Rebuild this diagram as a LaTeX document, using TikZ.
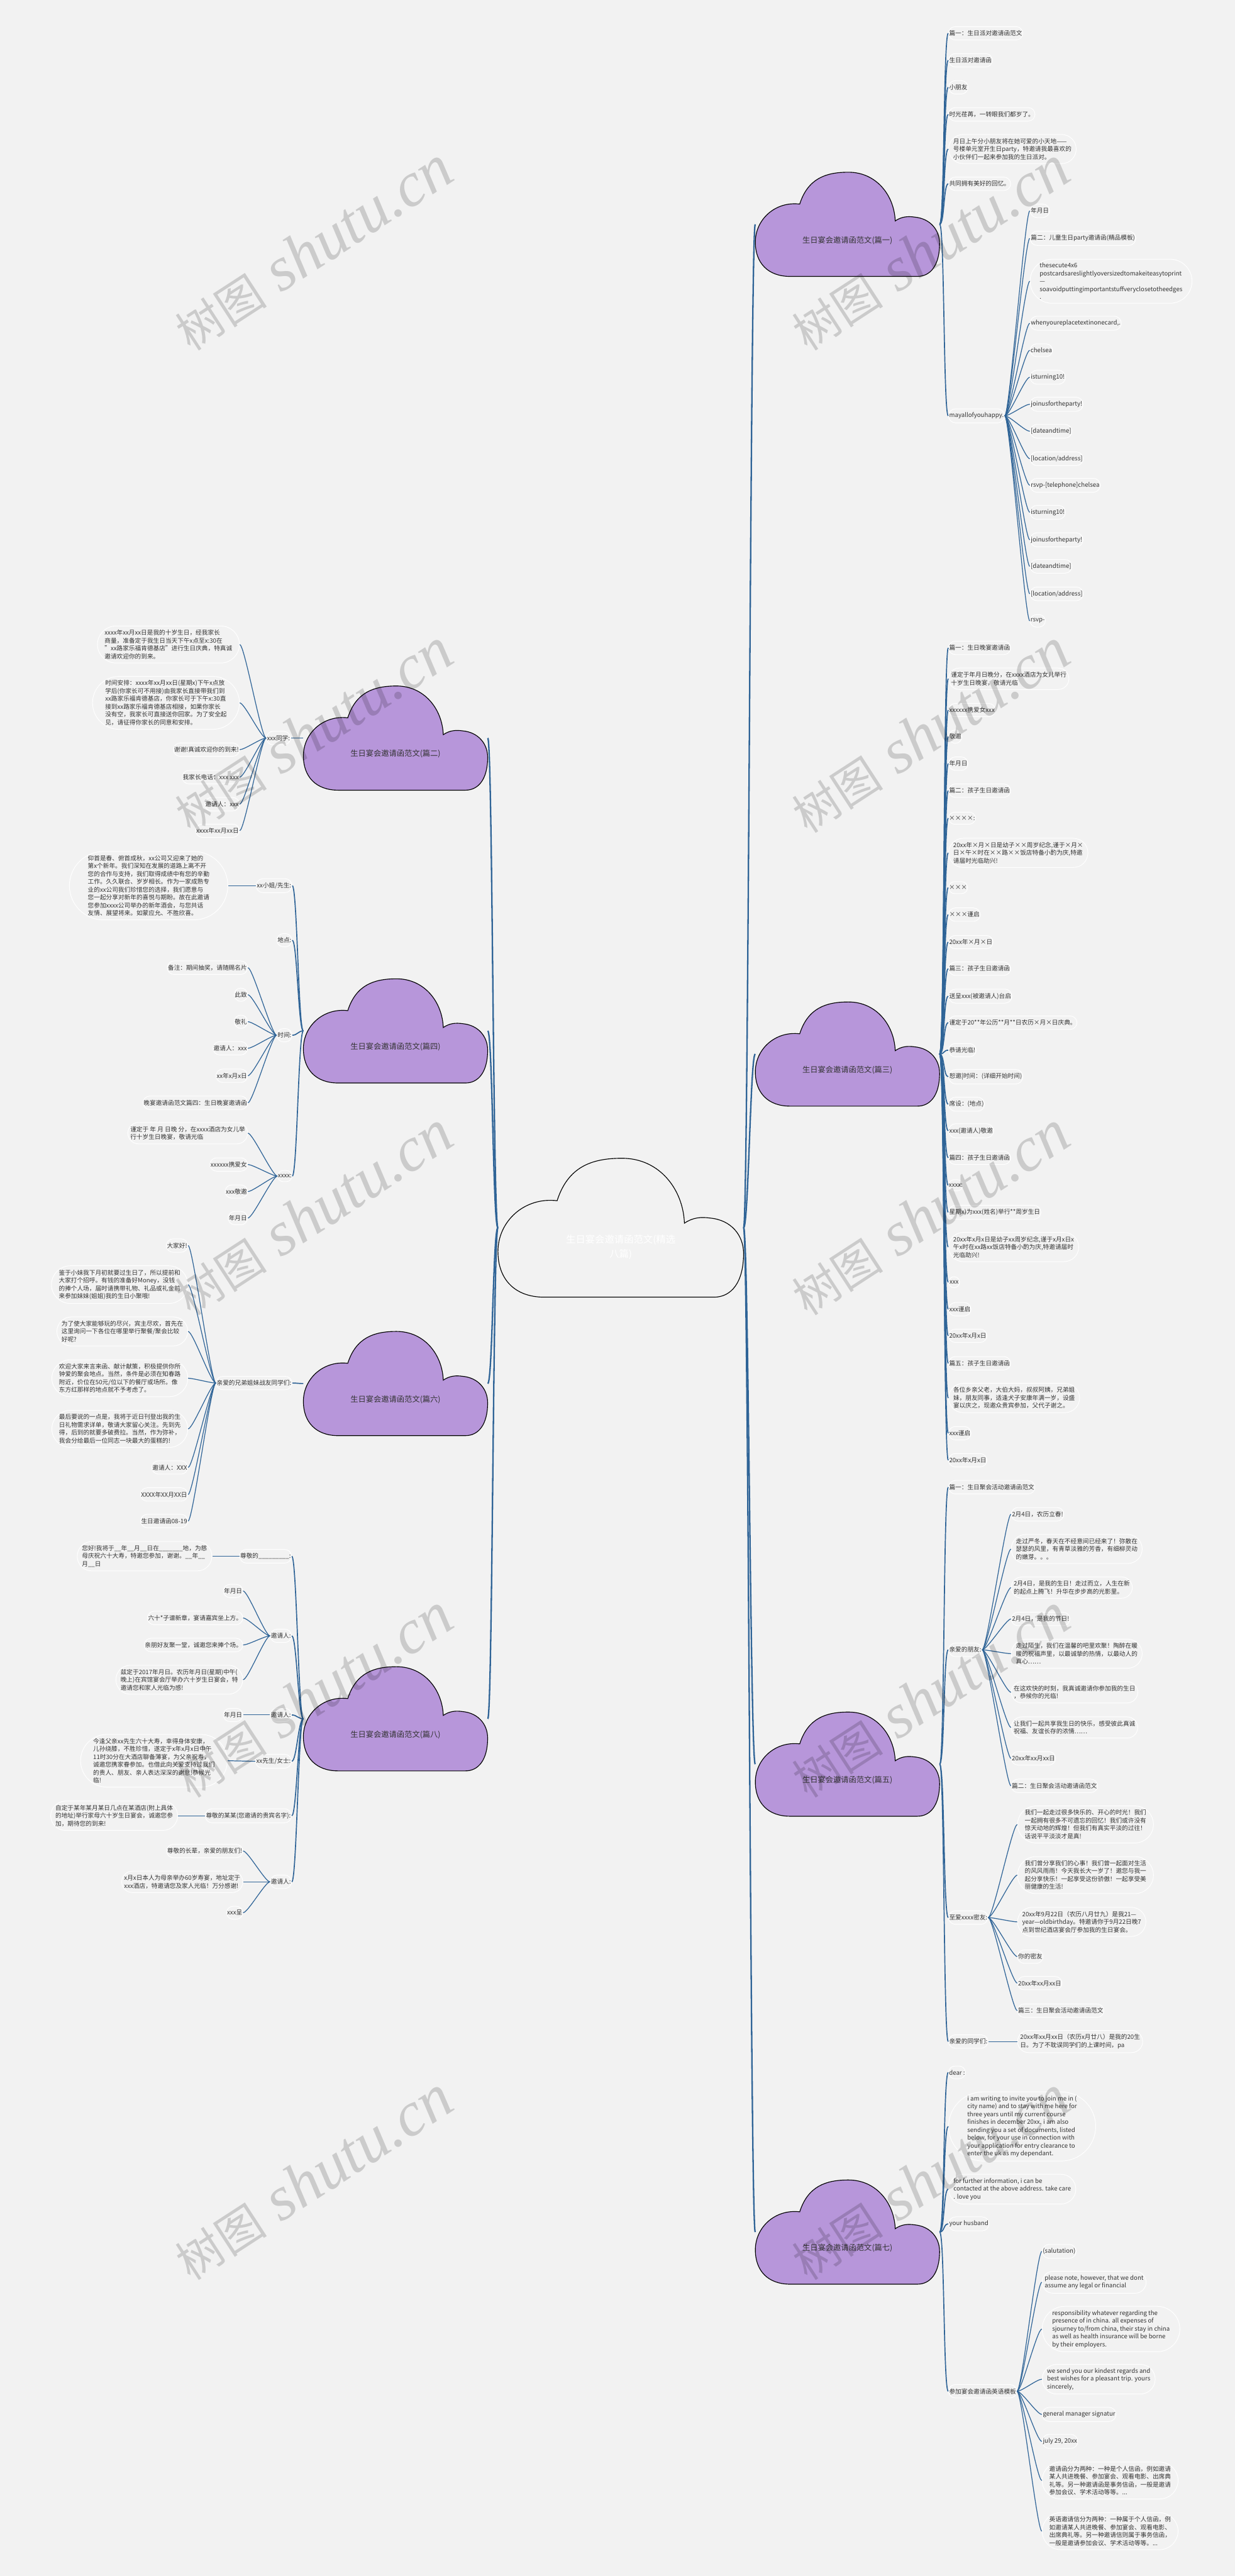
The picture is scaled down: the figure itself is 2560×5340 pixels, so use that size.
\documentclass[tikz,border=0pt]{standalone}
\usepackage{fontspec}
\setmainfont{Noto Sans CJK SC}
\newfontfamily\wmlat{Liberation Serif}
\usetikzlibrary{shapes.misc}
\definecolor{bgc}{HTML}{F2F2F2}
\definecolor{lc}{HTML}{2F6497}
\definecolor{pur}{HTML}{B796DA}
\definecolor{txt}{HTML}{333333}
\newcommand\cR[3][consub]{\draw[#1] (#2.east) .. controls ([xshift=10pt]#2.east) and ([xshift=-10pt]#3.west) .. (#3.west);}
\newcommand\cL[3][consub]{\draw[#1] (#2.west) .. controls ([xshift=-10pt]#2.west) and ([xshift=10pt]#3.east) .. (#3.east);}
\newcommand\cloudat[3]{\path[draw=black, line width=1.5pt, fill=#3, shift={#1}, scale=#2]
 (-119,108) .. controls (-165,108) and (-191,80) .. (-191,37)
 .. controls (-191,-10) and (-150,-48) .. (-99,-42)
 .. controls (-82,-95) and (-45,-108) .. (2,-108)
 .. controls (60,-108) and (97,-60) .. (99,-7)
 .. controls (112,-16) and (125,-17) .. (139,-15)
 .. controls (172,-12) and (191,12) .. (191,40)
 .. controls (191,85) and (172,108) .. (145,108) -- cycle;}
\newcommand\wmtext{{\fontsize{95}{95}\selectfont 树图}\hspace{32pt}{\wmlat\itshape\fontsize{130}{130}\selectfont shutu.cn}}
\begin{document}
\begin{tikzpicture}[x=1pt,y=-1pt,
 leaf/.style={rounded rectangle, draw=white, line width=1.3pt, fill=bgc, inner xsep=0pt, inner ysep=8pt, text=txt, align=left, font=\fontsize{12.6}{16.3}\selectfont},
 R/.style={leaf, anchor=west},
 L/.style={leaf, anchor=east},
 cloudbox/.style={rectangle, inner sep=0pt, minimum width=382pt, minimum height=216pt},
 cloudtext/.style={font=\fontsize{16}{20}\selectfont, text=txt, yshift=-33pt},
 centertext/.style={font=\fontsize{20}{30}\selectfont, text=white, align=center, yshift=-40pt},
 conmain/.style={draw=lc, line width=3pt},
 consub/.style={draw=lc, line width=2.2pt},
 condeep/.style={draw=lc, line width=1.6pt},
 wm/.style={rotate=33, text=black, opacity=0.16, inner sep=0pt}]
\useasboundingbox (0,0) rectangle (2560,5340);
\fill[bgc] (0,0) rectangle (2560,5340);

% ---------- clouds ----------
\cloudat{(1287,2545)}{1.333}{bgc}
\node[rectangle, inner sep=0pt, minimum width=509pt, minimum height=290pt, label={[centertext]center:{生日宴会邀请函范文(精选\\八篇)}}] (c0) at (1287,2545) {};
\cloudat{(1757,465)}{1}{pur}
\node[cloudbox, label={[cloudtext]center:生日宴会邀请函范文(篇一)}] (c1) at (1757,465) {};
\cloudat{(1757,2185)}{1}{pur}
\node[cloudbox, label={[cloudtext]center:生日宴会邀请函范文(篇三)}] (c3) at (1757,2185) {};
\cloudat{(1757,3657)}{1}{pur}
\node[cloudbox, label={[cloudtext]center:生日宴会邀请函范文(篇五)}] (c5) at (1757,3657) {};
\cloudat{(1757,4627)}{1}{pur}
\node[cloudbox, label={[cloudtext]center:生日宴会邀请函范文(篇七)}] (c7) at (1757,4627) {};
\cloudat{(820,1530)}{1}{pur}
\node[cloudbox, label={[cloudtext]center:生日宴会邀请函范文(篇二)}] (c2) at (820,1530) {};
\cloudat{(820,2137)}{1}{pur}
\node[cloudbox, label={[cloudtext]center:生日宴会邀请函范文(篇四)}] (c4) at (820,2137) {};
\cloudat{(820,2868)}{1}{pur}
\node[cloudbox, label={[cloudtext]center:生日宴会邀请函范文(篇六)}] (c6) at (820,2868) {};
\cloudat{(820,3563)}{1}{pur}
\node[cloudbox, label={[cloudtext]center:生日宴会邀请函范文(篇八)}] (c8) at (820,3563) {};

% ---------- right: 篇一 ----------
\node[R] (a1) at (1966,69) {篇一：生日派对邀请函范文};
\node[R] (a2) at (1966,125) {生日派对邀请函};
\node[R] (a3) at (1966,181) {小朋友};
\node[R] (a4) at (1966,237) {时光荏苒，一转眼我们都岁了。};
\node[R] (a5) at (1966,309) {月日上午分小朋友将在她可爱的小天地——\\号楼单元室开生日party，特邀请我最喜欢的\\小伙伴们一起来参加我的生日派对。};
\node[R] (a6) at (1966,381) {共同拥有美好的回忆。};
\node[R] (a7) at (1966,862) {mayallofyouhappy.};
\node[R] (b1) at (2135,437) {年月日};
\node[R] (b2) at (2135,494) {篇二：儿童生日party邀请函(精品模板)};
\node[R] (b3) at (2135,583) {thesecute4x6\\postcardsareslightlyoversizedtomakeiteasytoprint\\—\\soavoidputtingimportantstuffveryclosetotheedges\\.};
\node[R] (b4) at (2135,670) {whenyoureplacetextinonecard,.};
\node[R] (b5) at (2135,726) {chelsea};
\node[R] (b6) at (2135,782) {isturning10!};
\node[R] (b7) at (2135,838) {joinusfortheparty!};
\node[R] (b8) at (2135,894) {[dateandtime]};
\node[R] (b9) at (2135,951) {[location/address]};
\node[R] (b10) at (2135,1006) {rsvp-[telephone]chelsea};
\node[R] (b11) at (2135,1062) {isturning10!};
\node[R] (b12) at (2135,1119) {joinusfortheparty!};
\node[R] (b13) at (2135,1174) {[dateandtime]};
\node[R] (b14) at (2135,1231) {[location/address]};
\node[R] (b15) at (2135,1287) {rsvp-};

% ---------- right: 篇三 ----------
\node[R] (d1) at (1966,1343) {篇一：生日晚宴邀请函};
\node[R] (d2) at (1966,1407) {谨定于年月日晚分，在xxxx酒店为女儿举行\\十岁生日晚宴，敬请光临};
\node[R] (d3) at (1966,1472) {xxxxxx携爱女xxx};
\node[R] (d4) at (1966,1527) {敬邀};
\node[R] (d5) at (1966,1583) {年月日};
\node[R] (d6) at (1966,1639) {篇二：孩子生日邀请函};
\node[R] (d7) at (1966,1696) {××××:};
\node[R] (d8) at (1966,1768) {20xx年×月×日是幼子××周岁纪念,谨于×月×\\日×午×时在××路××饭店特备小酌为庆,特邀\\请届时光临助兴!};
\node[R] (d9) at (1966,1840) {×××};
\node[R] (d10) at (1966,1896) {×××谨启};
\node[R] (d11) at (1966,1953) {20xx年×月×日};
\node[R] (d12) at (1966,2008) {篇三：孩子生日邀请函};
\node[R] (d13) at (1966,2065) {送呈xxx(被邀请人)台启};
\node[R] (d14) at (1966,2120) {谨定于20**年公历**月**日农历×月×日庆典。};
\node[R] (d15) at (1966,2177) {恭请光临!};
\node[R] (d16) at (1966,2232) {恕邀|时间：(详细开始时间)};
\node[R] (d17) at (1966,2289) {席设：(地点)};
\node[R] (d18) at (1966,2344) {xxx(邀请人)敬邀};
\node[R] (d19) at (1966,2400) {篇四：孩子生日邀请函};
\node[R] (d20) at (1966,2457) {xxxx:};
\node[R] (d21) at (1966,2513) {星期x)为xxx(姓名)举行**周岁生日};
\node[R] (d22) at (1966,2585) {20xx年x月x日是幼子xx周岁纪念,谨于x月x日x\\午x时在xx路xx饭店特备小酌为庆,特邀请届时\\光临助兴!};
\node[R] (d23) at (1966,2658) {xxx};
\node[R] (d24) at (1966,2714) {xxx谨启};
\node[R] (d25) at (1966,2769) {20xx年x月x日};
\node[R] (d26) at (1966,2826) {篇五：孩子生日邀请函};
\node[R] (d27) at (1966,2898) {各位乡亲父老，大伯大妈，叔叔阿姨，兄弟姐\\妹，朋友同事，适逢犬子安康年满一岁，设盛\\宴以庆之，现邀众贵宾参加，父代子谢之。};
\node[R] (d28) at (1966,2971) {xxx谨启};
\node[R] (d29) at (1966,3027) {20xx年x月x日};

% ---------- right: 篇五 ----------
\node[R] (e1) at (1966,3083) {篇一：生日聚会活动邀请函范文};
\node[R] (e2) at (1966,3420) {亲爱的朋友:};
\node[R] (e3) at (1966,3975) {至爱xxxx密友:};
\node[R] (e4) at (1966,4232) {亲爱的同学们:};
\node[R] (f1) at (2096,3139) {2月4日，农历立春!};
\node[R] (f2) at (2096,3211) {走过严冬，春天在不经意间已经来了！弥散在\\瑟瑟的风里，有青草淡雅的芳香，有细柳灵动\\的嫩芽。。。};
\node[R] (f3) at (2096,3291) {2月4日，是我的生日！走过而立，人生在新\\的起点上腾飞！升华在步步高的光影里。};
\node[R] (f4) at (2096,3356) {2月4日，是我的节日!};
\node[R] (f5) at (2096,3428) {走过陌生，我们在温馨的吧里欢聚！陶醉在暖\\暖的祝福声里，以最诚挚的热情，以最动人的\\真心……};
\node[R] (f6) at (2096,3508) {在这欢快的时刻，我真诚邀请你参加我的生日\\，恭候你的光临!};
\node[R] (f7) at (2096,3581) {让我们一起共享我生日的快乐，感受彼此真诚\\祝福、友谊长存的浓情……};
\node[R] (f8) at (2096,3645) {20xx年xx月xx日};
\node[R] (f9) at (2096,3702) {篇二：生日聚会活动邀请函范文};
\node[R] (g1) at (2109,3782) {我们一起走过很多快乐的、开心的时光！我们\\一起拥有很多不可遗忘的回忆！我们或许没有\\惊天动地的辉煌！但我们有真实平淡的过往！\\话说平平淡淡才是真!};
\node[R] (g2) at (2109,3887) {我们曾分享我们的心事！我们曾一起面对生活\\的风风雨雨！今天我长大一岁了！邀您与我一\\起分享快乐！一起享受这份骄傲！一起享受美\\丽健康的生活!};
\node[R] (g3) at (2109,3984) {20xx年9月22日（农历八月廿九）是我21—\\year—oldbirthday。特邀请你于9月22日晚7\\点到世纪酒店宴会厅参加我的生日宴会。};
\node[R] (g4) at (2109,4056) {你的密友};
\node[R] (g5) at (2109,4111) {20xx年xx月xx日};
\node[R] (g6) at (2109,4168) {篇三：生日聚会活动邀请函范文};
\node[R] (h1) at (2109,4232) {20xx年xx月xx日（农历x月廿八）是我的20生\\日。为了不耽误同学们的上课时间，pa};

% ---------- right: 篇七 ----------
\node[R] (i1) at (1966,4296) {dear :};
\node[R] (i2) at (1966,4408) {i am writing to invite you to join me in (\\city name) and to stay with me here for\\three years until my current course\\finishes in december 20xx. i am also\\sending you a set of documents, listed\\below, for your use in connection with\\your application for entry clearance to\\enter the uk as my dependant.};
\node[R] (i3) at (1966,4538) {for further information, i can be\\contacted at the above address. take care\\. love you};
\node[R] (i4) at (1966,4610) {your husband};
\node[R] (i5) at (1966,4957) {参加宴会邀请函英语模板};
\node[R] (j1) at (2160,4667) {(salutation)};
\node[R] (j2) at (2160,4731) {please note, however, that we dont\\assume any legal or financial};
\node[R] (j3) at (2160,4828) {responsibility whatever regarding the\\presence of in china. all expenses of\\sjourney to/from china, their stay in china\\as well as health insurance will be borne\\by their employers.};
\node[R] (j4) at (2160,4932) {we send you our kindest regards and\\best wishes for a pleasant trip. yours\\sincerely,};
\node[R] (j5) at (2160,5005) {general manager signatur};
\node[R] (j6) at (2160,5061) {july 29, 20xx};
\node[R] (j7) at (2160,5142) {邀请函分为两种：一种是个人信函，例如邀请\\某人共进晚餐、参加宴会、观看电影、出席典\\礼等。另一种邀请函是事务信函，一般是邀请\\参加会议、学术活动等等。...};
\node[R] (j8) at (2160,5247) {英语邀请信分为两种：一种属于个人信函，例\\如邀请某人共进晚餐、参加宴会、观看电影、\\出席典礼等。另一种邀请信则属于事务信函，\\一般是邀请参加会议、学术活动等等。...};

% ---------- left: 篇二 ----------
\node[L] (k0) at (603,1530) {xxx同学:};
\node[L] (k1) at (497,1336) {xxxx年xx月xx日是我的十岁生日，经我家长\\商量，准备定于我生日当天下午x点至x:30在\\"xx路家乐福肯德基店"进行生日庆典，特真诚\\邀请欢迎你的到来。};
\node[L] (k2) at (497,1457) {时间安排：xxxx年xx月xx日(星期x)下午x点放\\学后(你家长可不用接)由我家长直接带我们到\\xx路家乐福肯德基店，你家长可于下午x:30直\\接到xx路家乐福肯德基店相接，如果你家长\\没有空，我家长可直接送你回家。为了安全起\\见，请征得你家长的同意和安排。};
\node[L] (k3) at (497,1554) {谢谢!真诚欢迎你的到来!};
\node[L] (k4) at (497,1611) {我家长电话：xxx xxx};
\node[L] (k5) at (497,1667) {邀请人：xxx};
\node[L] (k6) at (497,1722) {xxxx年xx月xx日};

% ---------- left: 篇四 ----------
\node[L] (l1) at (606,1836) {xx小姐/先生:};
\node[L] (l1a) at (473,1836) {仰首是春、俯首成秋，xx公司又迎来了她的\\第x个新年。我们深知在发展的道路上离不开\\您的合作与支持，我们取得成绩中有您的辛勤\\工作。久久联合、岁岁相长。作为一家成熟专\\业的xx公司我们珍惜您的选择，我们愿意与\\您一起分享对新年的喜悦与期盼。故在此邀请\\您参加xxxx公司举办的新年酒会，与您共话\\友情、展望将来。如蒙应允、不胜欣喜。};
\node[L] (l2) at (606,1949) {地点:};
\node[L] (l3) at (606,2146) {时间:};
\node[L] (l4) at (606,2438) {xxxx:};
\node[L] (m1) at (514,2006) {备注：期间抽奖，请随赐名片};
\node[L] (m2) at (514,2062) {此致};
\node[L] (m3) at (514,2118) {敬礼};
\node[L] (m4) at (514,2173) {邀请人：xxx};
\node[L] (m5) at (514,2230) {xx年x月x日};
\node[L] (m6) at (514,2286) {晚宴邀请函范文篇四：生日晚宴邀请函};
\node[L] (n1) at (514,2349) {谨定于 年 月 日晚 分，在xxxx酒店为女儿举\\行十岁生日晚宴，敬请光临};
\node[L] (n2) at (514,2414) {xxxxxx携爱女};
\node[L] (n3) at (514,2470) {xxx敬邀};
\node[L] (n4) at (514,2525) {年月日};

% ---------- left: 篇六 ----------
\node[L] (o0) at (606,2867) {亲爱的兄弟姐妹战友同学们:};
\node[L] (o1) at (390,2582) {大家好!};
\node[L] (o2) at (390,2663) {鉴于小妹我下月初就要过生日了，所以提前和\\大家打个招呼。有钱的准备好Money，没钱\\的捧个人场，届时请携带礼物、礼品或礼金前\\来参加妹妹(姐姐)我的生日小聚哦!};
\node[L] (o3) at (390,2760) {为了使大家能够玩的尽兴，宾主尽欢，首先在\\这里询问一下各位在哪里举行聚餐/聚会比较\\好呢?};
\node[L] (o4) at (390,2857) {欢迎大家来言来函、献计献策，积极提供你所\\钟爱的聚会地点。当然，条件是必须在知春路\\附近，价位在50元/位以下的餐厅或场所。像\\东方红那样的地点就不予考虑了。};
\node[L] (o5) at (390,2962) {最后要说的一点是，我将于近日刊登出我的生\\日礼物需求详单，敬请大家留心关注。先到先\\得，后到的就要多破费拉。当然，作为弥补，\\我会分给最后一位同志一块最大的蛋糕的!};
\node[L] (o6) at (390,3042) {邀请人：XXX};
\node[L] (o7) at (390,3098) {XXXX年XX月XX日};
\node[L] (o8) at (390,3153) {生日邀请函08-19};

% ---------- left: 篇八 ----------
\node[L] (p1) at (605,3226) {尊敬的\_\_\_\_\_\_\_\_\_:};
\node[L] (p1a) at (440,3226) {您好!我将于\_\_年\_\_月\_\_日在\_\_\_\_\_\_\_地，为慈\\母庆祝六十大寿，特邀您参加，谢谢。\_\_年\_\_\\月\_\_日};
\node[L] (p2) at (605,3391) {邀请人:};
\node[L] (q1) at (504,3298) {年月日};
\node[L] (q2) at (504,3354) {六十*子谱新章，宴请嘉宾坐上方。};
\node[L] (q3) at (504,3410) {亲朋好友聚一堂，诚邀您来捧个场。};
\node[L] (q4) at (504,3482) {兹定于2017年月日。农历年月日(星期)中午(\\晚上)在宾馆宴会厅举办六十岁生日宴会，特\\邀请您和家人光临为感!};
\node[L] (p3) at (605,3555) {邀请人:};
\node[L] (q5) at (504,3555) {年月日};
\node[L] (p4) at (605,3651) {xx先生/女士:};
\node[L] (p4a) at (472,3650) {今逢父亲xx先生六十大寿，幸得身体安康，\\儿孙绕膝，不胜珍惜，遂定于x年x月x日中午\\11时30分在大酒店聊备薄宴，为父亲祝寿，\\诚邀您携家眷参加。也借此向关爱支持过我们\\的贵人、朋友、亲人表达深深的谢意!恭候光\\临!};
\node[L] (p5) at (605,3764) {尊敬的某某(您邀请的贵宾名字):};
\node[L] (p5a) at (369,3764) {自定于某年某月某日几点在某酒店(附上具体\\的地址)举行家母六十岁生日宴会，诚邀您参\\加，期待您的到来!};
\node[L] (p6) at (605,3901) {邀请人:};
\node[L] (r1) at (504,3837) {尊敬的长辈，亲爱的朋友们!};
\node[L] (r2) at (504,3901) {x月x日本人为母亲举办60岁寿宴，地址定于\\xxx酒店，特邀请您及家人光临！万分感谢!};
\node[L] (r3) at (504,3965) {xxx呈};

% ---------- connectors ----------
\foreach \n in {c1,c3,c5,c7} {\cR[conmain]{c0}{\n}}
\foreach \n in {c2,c4,c6,c8} {\cL[conmain]{c0}{\n}}
\foreach \n in {a1,a2,a3,a4,a5,a6,a7} {\cR{c1}{\n}}
\foreach \n in {b1,b2,b3,b4,b5,b6,b7,b8,b9,b10,b11,b12,b13,b14,b15} {\cR[condeep]{a7}{\n}}
\foreach \n in {d1,d2,d3,d4,d5,d6,d7,d8,d9,d10,d11,d12,d13,d14,d15,d16,d17,d18,d19,d20,d21,d22,d23,d24,d25,d26,d27,d28,d29} {\cR{c3}{\n}}
\foreach \n in {e1,e2,e3,e4} {\cR{c5}{\n}}
\foreach \n in {f1,f2,f3,f4,f5,f6,f7,f8,f9} {\cR[condeep]{e2}{\n}}
\foreach \n in {g1,g2,g3,g4,g5,g6} {\cR[condeep]{e3}{\n}}
\cR[condeep]{e4}{h1}
\foreach \n in {i1,i2,i3,i4,i5} {\cR{c7}{\n}}
\foreach \n in {j1,j2,j3,j4,j5,j6,j7,j8} {\cR[condeep]{i5}{\n}}
\cL{c2}{k0}
\foreach \n in {k1,k2,k3,k4,k5,k6} {\cL[condeep]{k0}{\n}}
\foreach \n in {l1,l2,l3,l4} {\cL{c4}{\n}}
\cL[condeep]{l1}{l1a}
\foreach \n in {m1,m2,m3,m4,m5,m6} {\cL[condeep]{l3}{\n}}
\foreach \n in {n1,n2,n3,n4} {\cL[condeep]{l4}{\n}}
\cL{c6}{o0}
\foreach \n in {o1,o2,o3,o4,o5,o6,o7,o8} {\cL[condeep]{o0}{\n}}
\foreach \n in {p1,p2,p3,p4,p5,p6} {\cL{c8}{\n}}
\cL[condeep]{p1}{p1a}
\foreach \n in {q1,q2,q3,q4} {\cL[condeep]{p2}{\n}}
\cL[condeep]{p3}{q5}
\cL[condeep]{p4}{p4a}
\cL[condeep]{p5}{p5a}
\foreach \n in {r1,r2,r3} {\cL[condeep]{p6}{\n}}

% ---------- watermarks ----------
\foreach \wy [count=\i] in {515,1515,2515,3515,4515} {
 \node[wm] (wl\i) at (650,\wy) {\wmtext};
 \node[wm] (wr\i) at (1928,\wy) {\wmtext};
}
\end{tikzpicture}
\end{document}
